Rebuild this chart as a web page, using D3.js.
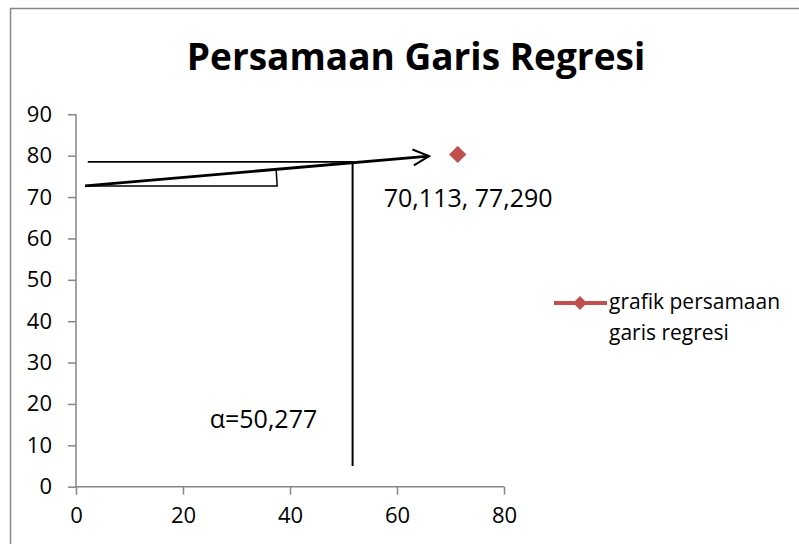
<!DOCTYPE html>
<html>
<head>
<meta charset="utf-8">
<script src="https://cdn.jsdelivr.net/npm/d3@7"></script>
<style>
  html, body { margin: 0; padding: 0; background: #fff; }
  svg { display: block; }
  text { font-family: "Open Sans", sans-serif; fill: #000; }
</style>
</head>
<body>
<svg id="chart" width="799" height="544"></svg>
<script>
// ---- data ----
const chartTitle = "Persamaan Garis Regresi";
const seriesName = ["grafik persamaan", "garis regresi"];
const xTicks = [0, 20, 40, 60, 80];
const yTicks = [0, 10, 20, 30, 40, 50, 60, 70, 80, 90];
const points = [{ x: 71.35, y: 80.3 }];
const pointLabel = "70,113, 77,290";
const alphaLabel = "α=50,277";
const alphaPos = { x: 25.0, y: 14.1 };
// annotation shapes (data coordinates)
const regressionArrow = [{ x: 1.7, y: 72.7 }, { x: 66.0, y: 79.9 }];
const horizLine = [{ x: 2.2, y: 78.5 }, { x: 51.8, y: 78.5 }];
const vertLine = [{ x: 51.7, y: 78.5 }, { x: 51.7, y: 5.0 }];
const angleMark = [{ x: 1.7, y: 72.7 }, { x: 37.6, y: 72.7 }, { x: 37.4, y: 77.0 }];

const svg = d3.select("#chart");
const axisColor = "#868686";
const red = "#c0504d";

// outer border
svg.append("rect").attr("x", 10.5).attr("y", 8.5).attr("width", 820).attr("height", 560)
  .attr("fill", "none").attr("stroke", axisColor).attr("stroke-width", 1.5);

const x = d3.scaleLinear().domain([0, 80]).range([76, 504]);
const y = d3.scaleLinear().domain([0, 90]).range([486.7, 114.3]);

// title
svg.append("text").attr("x", 416).attr("y", 70).attr("text-anchor", "middle")
  .style("font-weight", "bold").style("font-size", "37px").text(chartTitle);

// y axis
const yAxis = svg.append("g").attr("transform", `translate(${x(0)},0)`)
  .call(d3.axisLeft(y).tickValues(yTicks).tickSize(8).tickPadding(16).tickFormat(d3.format("d")));
yAxis.select(".domain").attr("stroke", axisColor).attr("stroke-width", 1.5).attr("d", `M0,${y(0)}V${y(90)}`);
yAxis.selectAll(".tick line").attr("stroke", axisColor).attr("stroke-width", 1.5);
yAxis.selectAll(".tick text").style("font-size", "22px").attr("fill", "#000").attr("font-family", null);

// x axis
const xAxis = svg.append("g").attr("transform", `translate(0,${y(0)})`)
  .call(d3.axisBottom(x).tickValues(xTicks).tickSize(8).tickPadding(13).tickFormat(d3.format("d")));
xAxis.select(".domain").attr("stroke", axisColor).attr("stroke-width", 1.5).attr("d", `M${x(0)},0H${x(80)}`);
xAxis.selectAll(".tick line").attr("stroke", axisColor).attr("stroke-width", 1.5);
xAxis.selectAll(".tick text").style("font-size", "22px").attr("fill", "#000").attr("font-family", null);

// annotations
const line = d3.line().x(d => x(d.x)).y(d => y(d.y));
svg.append("path").attr("d", line(horizLine)).attr("stroke", "#000").attr("stroke-width", 1.6).attr("fill", "none");
svg.append("path").attr("d", line(vertLine)).attr("stroke", "#000").attr("stroke-width", 2).attr("fill", "none");
svg.append("path").attr("d", line(angleMark)).attr("stroke", "#000").attr("stroke-width", 1.5).attr("fill", "none");
svg.append("path").attr("d", line(regressionArrow)).attr("stroke", "#000").attr("stroke-width", 2.8).attr("fill", "none");
// arrow head (open)
{
  const p0 = regressionArrow[0], p1 = regressionArrow[1];
  const tx = x(p1.x), ty = y(p1.y);
  const ang = Math.atan2(ty - y(p0.y), tx - x(p0.x));
  const L = 16, W = 8;
  const bx = tx - L * Math.cos(ang), by = ty - L * Math.sin(ang);
  const nx = -Math.sin(ang), ny = Math.cos(ang);
  svg.append("path")
    .attr("d", `M${bx + nx * W},${by + ny * W}L${tx},${ty}L${bx - nx * W},${by - ny * W}`)
    .attr("stroke", "#000").attr("stroke-width", 2).attr("fill", "none");
}

// data points
const diamond = d3.symbol().type(d3.symbolDiamond2);
svg.selectAll(".pt").data(points).join("path").attr("class", "pt")
  .attr("transform", d => `translate(${x(d.x)},${y(d.y)})`)
  .attr("d", diamond.size(190)()).attr("fill", red);

// data label
svg.selectAll(".lbl").data(points).join("text").attr("class", "lbl")
  .attr("x", d => x(d.x) + 10.5).attr("y", d => y(d.y) + 53)
  .attr("text-anchor", "middle").style("font-size", "25px").text(pointLabel);

// alpha label
svg.append("text").attr("x", x(alphaPos.x)).attr("y", y(alphaPos.y))
  .style("font-size", "25px").text(alphaLabel);

// legend
const lg = svg.append("g");
lg.append("line").attr("x1", 554).attr("x2", 607).attr("y1", 303).attr("y2", 303)
  .attr("stroke", red).attr("stroke-width", 4);
lg.append("path").attr("transform", "translate(580,303)").attr("d", diamond.size(125)()).attr("fill", red);
lg.selectAll("text").data(seriesName).join("text")
  .attr("x", 609).attr("y", (d, i) => 309 + i * 31)
  .style("font-size", "21px").text(d => d);
</script>
</body>
</html>
